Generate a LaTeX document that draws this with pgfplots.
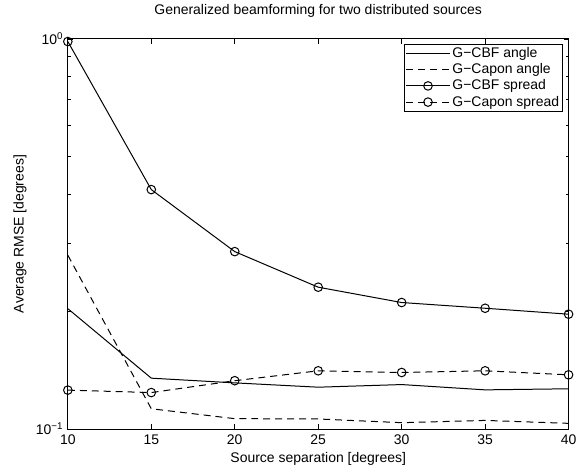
\documentclass[border=0pt]{standalone}
\usepackage{fontspec}
\setmainfont{Liberation Sans}
\usepackage{pgfplots}
\pgfplotsset{compat=1.18}
\begin{document}
\fontsize{14bp}{16bp}\selectfont
\begin{tikzpicture}
\begin{axis}[
  scale only axis, width=502bp, height=391bp,
  xmin=10, xmax=40, ymode=log, ymin=0.1, ymax=1,
  xtick={10,15,20,25,30,35,40},
  ytick={0.1,1}, yticklabels={10\textsuperscript{−1},10\textsuperscript{0}},
  minor ytick={0.2,0.3,0.4,0.5,0.6,0.7,0.8,0.9},
  tick align=inside, major tick length=5bp, minor tick length=3bp,
  axis line style={line width=1bp}, every tick/.style={black,line width=0.7bp},
  /pgf/number format/assume math mode=true,
  tick label style={font=\fontsize{14bp}{16bp}\selectfont},
  xticklabel style={yshift=-1bp},
  label style={font=\fontsize{14bp}{16bp}\selectfont},
  title style={font=\fontsize{14bp}{16bp}\selectfont, at={(axis description cs:0.5,1.056)}, anchor=center},
  title={Generalized beamforming for two distributed sources},
  xlabel={Source separation [degrees]},
  ylabel={Average RMSE [degrees]},
  xlabel style={at={(axis description cs:0.5,-0.0767)}, anchor=center},
  ylabel style={at={(axis description cs:-0.0956,0.5)}, anchor=center},
  legend style={at={(axis description cs:0.988,0.987)}, anchor=north east,
    font=\fontsize{14bp}{16bp}\selectfont, draw=black, line width=0.8bp,
    inner sep=1bp, row sep=0bp, cells={anchor=west}},
  legend image code/.code={\draw[mark repeat=2,mark phase=2,#1] plot coordinates {(0bp,0bp) (22bp,0bp) (44bp,0bp)};},
  every axis plot/.append style={black, line width=1bp, mark size=4.3bp, mark options={solid}},
]
\addplot[solid] coordinates {(10,0.2035) (15,0.135) (20,0.1313) (25,0.128) (30,0.130) (35,0.126) (40,0.1268)};
\addlegendentry{G−CBF angle}
\addplot[dash pattern=on 7bp off 5bp] coordinates {(10,0.279) (15,0.1127) (20,0.1063) (25,0.1061) (30,0.1038) (35,0.1052) (40,0.1034)};
\addlegendentry{G−Capon angle}
\addplot[solid, mark=o] coordinates {(10,0.985) (15,0.411) (20,0.285) (25,0.231) (30,0.211) (35,0.204) (40,0.197)};
\addlegendentry{G−CBF spread}
\addplot[dash pattern=on 7bp off 5bp, mark=o] coordinates {(10,0.1258) (15,0.124) (20,0.133) (25,0.141) (30,0.1396) (35,0.141) (40,0.1377)};
\addlegendentry{G−Capon spread}
\end{axis}
\path ([xshift=-68bp,yshift=-45bp]current axis.south west) rectangle ([xshift=11bp,yshift=32bp]current axis.north east);
\end{tikzpicture}
\end{document}
